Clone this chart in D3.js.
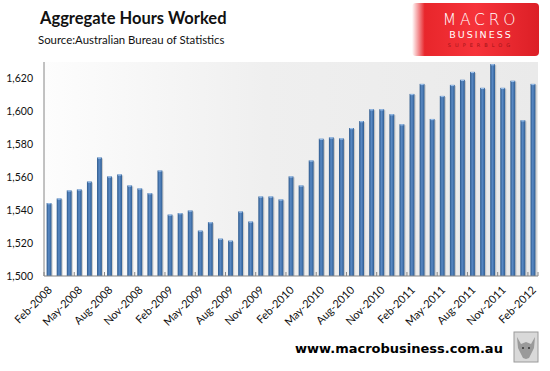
<!DOCTYPE html>
<html>
<head>
<meta charset="UTF-8">
<script src="https://d3js.org/d3.v7.min.js"></script>
<style>
  body { margin: 0; background: #fff; }
  svg { display: block; }
</style>
</head>
<body>
<svg id="chart"></svg>
<script>
var width = 550, height = 371;

// aggregate hours worked, millions, Feb-2008 .. Feb-2012
var months = d3.timeMonth.range(new Date(2008, 1, 1), new Date(2012, 2, 1));
var hours = [
  1544.3, 1547.1, 1552.0, 1552.6, 1557.4, 1572.0, 1560.5, 1561.7, 1555.0, 1553.2,
  1550.3, 1564.1, 1537.3, 1538.2, 1539.8, 1527.6, 1532.7, 1522.7, 1521.5, 1539.2,
  1533.1, 1548.3, 1548.3, 1546.5, 1560.5, 1555.0, 1570.2, 1583.4, 1584.2, 1583.6,
  1589.9, 1594.1, 1601.3, 1601.3, 1598.3, 1592.2, 1610.6, 1616.7, 1595.4, 1609.4,
  1616.1, 1619.2, 1624.0, 1614.3, 1628.7, 1614.3, 1618.6, 1594.6, 1616.7
];
var yTicks = [1500, 1520, 1540, 1560, 1580, 1600, 1620];

var fmtMonth = d3.timeFormat("%b-%Y");
var data = months.map(function(m, i) { return { month: fmtMonth(m), value: hours[i] }; });
var labels = data.filter(function(d, i) { return i % 3 === 0; }).map(function(d) { return d.month; });

var plotL = 44, plotR = 538, plotT = 62, plotB = 276;

var svg = d3.select("#chart")
  .attr("width", width)
  .attr("height", height)
  .style("font-family", "Lato, 'Open Sans', sans-serif");

var defs = svg.append("defs");

var bg = defs.append("linearGradient").attr("id", "plotbg")
  .attr("x1", "0").attr("x2", "1").attr("y1", "0").attr("y2", "0");
bg.append("stop").attr("offset", "0").attr("stop-color", "#fdfdfd");
bg.append("stop").attr("offset", "0.45").attr("stop-color", "#efefef");
bg.append("stop").attr("offset", "1").attr("stop-color", "#eaeaea");

var barGrad = defs.append("linearGradient").attr("id", "bargrad")
  .attr("x1", "0").attr("x2", "1").attr("y1", "0").attr("y2", "0");
barGrad.append("stop").attr("offset", "0").attr("stop-color", "#2b578a");
barGrad.append("stop").attr("offset", "0.45").attr("stop-color", "#5a8ac5");
barGrad.append("stop").attr("offset", "1").attr("stop-color", "#2d5c92");

var logoGrad = defs.append("linearGradient").attr("id", "logograd")
  .attr("x1", "0").attr("x2", "1").attr("y1", "0").attr("y2", "0");
logoGrad.append("stop").attr("offset", "0").attr("stop-color", "#ffffff");
logoGrad.append("stop").attr("offset", "0.1").attr("stop-color", "#e8262b");
logoGrad.append("stop").attr("offset", "0.5").attr("stop-color", "#f6333a");
logoGrad.append("stop").attr("offset", "1").attr("stop-color", "#dc1f26");

// plot background
svg.append("rect")
  .attr("x", plotL).attr("y", plotT)
  .attr("width", plotR - plotL).attr("height", plotB - plotT)
  .attr("fill", "url(#plotbg)");

var x = d3.scaleBand()
  .domain(data.map(function(d) { return d.month; }))
  .range([plotL, plotR])
  .paddingInner(0.52)
  .paddingOuter(0.26);

var xEdge = d3.scaleBand()
  .domain(data.map(function(d) { return d.month; }))
  .range([plotL, plotR]);

var y = d3.scaleLinear()
  .domain([1500, 1630])
  .range([plotB, plotT]);

// bar shadows
svg.append("g").selectAll("rect")
  .data(data)
  .enter().append("rect")
  .attr("x", function(d) { return x(d.month) + 1.2; })
  .attr("y", function(d) { return y(d.value) + 1; })
  .attr("width", x.bandwidth())
  .attr("height", function(d) { return plotB - y(d.value) - 1; })
  .attr("fill", "#9a9a9a")
  .attr("opacity", 0.45);

// bars
svg.append("g").selectAll("rect")
  .data(data)
  .enter().append("rect")
  .attr("x", function(d) { return x(d.month); })
  .attr("y", function(d) { return y(d.value); })
  .attr("width", x.bandwidth())
  .attr("height", function(d) { return plotB - y(d.value); })
  .attr("fill", "url(#bargrad)");

// light caps on bar tops
svg.append("g").selectAll("rect")
  .data(data)
  .enter().append("rect")
  .attr("x", function(d) { return x(d.month) + 0.8; })
  .attr("y", function(d) { return y(d.value); })
  .attr("width", x.bandwidth() - 1.6)
  .attr("height", 1.2)
  .attr("fill", "#9cc0ea");

// y axis
var yAxis = svg.append("g")
  .attr("transform", "translate(" + plotL + ",0)")
  .call(d3.axisLeft(y).tickValues(yTicks).tickSize(0).tickPadding(11).tickFormat(d3.format(",")));
yAxis.select(".domain").attr("stroke", "#868686").attr("d", "M0," + plotT + "V" + plotB);
yAxis.selectAll("text").attr("font-size", "10.5px").attr("fill", "#111")
  .style("font-family", "Lato, sans-serif");

// x axis
var xAxis = svg.append("g")
  .attr("transform", "translate(0," + plotB + ")")
  .call(d3.axisBottom(x).tickValues(labels).tickSize(0).tickPadding(0));
xAxis.select(".domain").attr("stroke", "#868686").attr("d", "M" + plotL + ",0H" + plotR);
xAxis.selectAll("text")
  .attr("font-size", "11px")
  .attr("fill", "#111")
  .style("font-family", "Lato, sans-serif")
  .attr("text-anchor", "end")
  .attr("y", 0)
  .attr("dy", "0.35em")
  .attr("transform", "translate(1,12) rotate(-45)");

// tick marks every three months, on the band edges
var tickPos = labels.map(function(m) { return xEdge(m); }).concat([plotR]);
xAxis.append("g").selectAll("line")
  .data(tickPos)
  .enter().append("line")
  .attr("x1", function(d) { return d; }).attr("x2", function(d) { return d; })
  .attr("y1", -4).attr("y2", 0)
  .attr("stroke", "#868686");

// titles
svg.append("text")
  .attr("x", 40).attr("y", 24)
  .attr("font-size", "16.5px").attr("font-weight", "bold").attr("fill", "#111")
  .text("Aggregate Hours Worked");
svg.append("text")
  .attr("x", 38).attr("y", 44)
  .attr("font-size", "11.4px").attr("fill", "#111")
  .text("Source:Australian Bureau of Statistics");

// logo
var logo = svg.append("g");
logo.append("rect")
  .attr("x", 412).attr("y", 3).attr("width", 127).attr("height", 53)
  .attr("rx", 4)
  .attr("fill", "url(#logograd)");
logo.append("text")
  .attr("x", 481).attr("y", 25)
  .attr("text-anchor", "middle")
  .attr("font-size", "15.5px").attr("fill", "#fff")
  .attr("letter-spacing", "3.8px")
  .style("font-family", "'DejaVu Sans', sans-serif").style("font-weight", "200")
  .text("MACRO");
logo.append("text")
  .attr("x", 481).attr("y", 38)
  .attr("text-anchor", "middle")
  .attr("font-size", "9.5px").attr("fill", "#fff")
  .attr("letter-spacing", "2px")
  .style("font-family", "'DejaVu Sans', sans-serif")
  .text("BUSINESS");
logo.append("text")
  .attr("x", 481).attr("y", 47)
  .attr("text-anchor", "middle")
  .attr("font-size", "5px").attr("fill", "#a11418")
  .attr("letter-spacing", "4px")
  .style("font-family", "'DejaVu Sans', sans-serif")
  .text("SUPERBLOG");

// footer
svg.append("text")
  .attr("x", 295).attr("y", 353)
  .attr("font-size", "13px").attr("font-weight", "bold").attr("fill", "#000")
  .style("font-family", "'DejaVu Sans', sans-serif")
  .text("www.macrobusiness.com.au");

var wolf = svg.append("g");
wolf.append("rect")
  .attr("x", 514).attr("y", 332).attr("width", 24).attr("height", 30)
  .attr("fill", "#d9d9d9").attr("stroke", "#9a9a9a");
wolf.append("path")
  .attr("d", "M517,337 L521,344 L526,342 L531,344 L535,337 L534,348 L529,358 L526,359 L523,358 L518,348 Z")
  .attr("fill", "#8a8a8a").attr("opacity", 0.8);
wolf.append("circle").attr("cx", 523).attr("cy", 348).attr("r", 1).attr("fill", "#333");
wolf.append("circle").attr("cx", 529).attr("cy", 348).attr("r", 1).attr("fill", "#333");
</script>
</body>
</html>
